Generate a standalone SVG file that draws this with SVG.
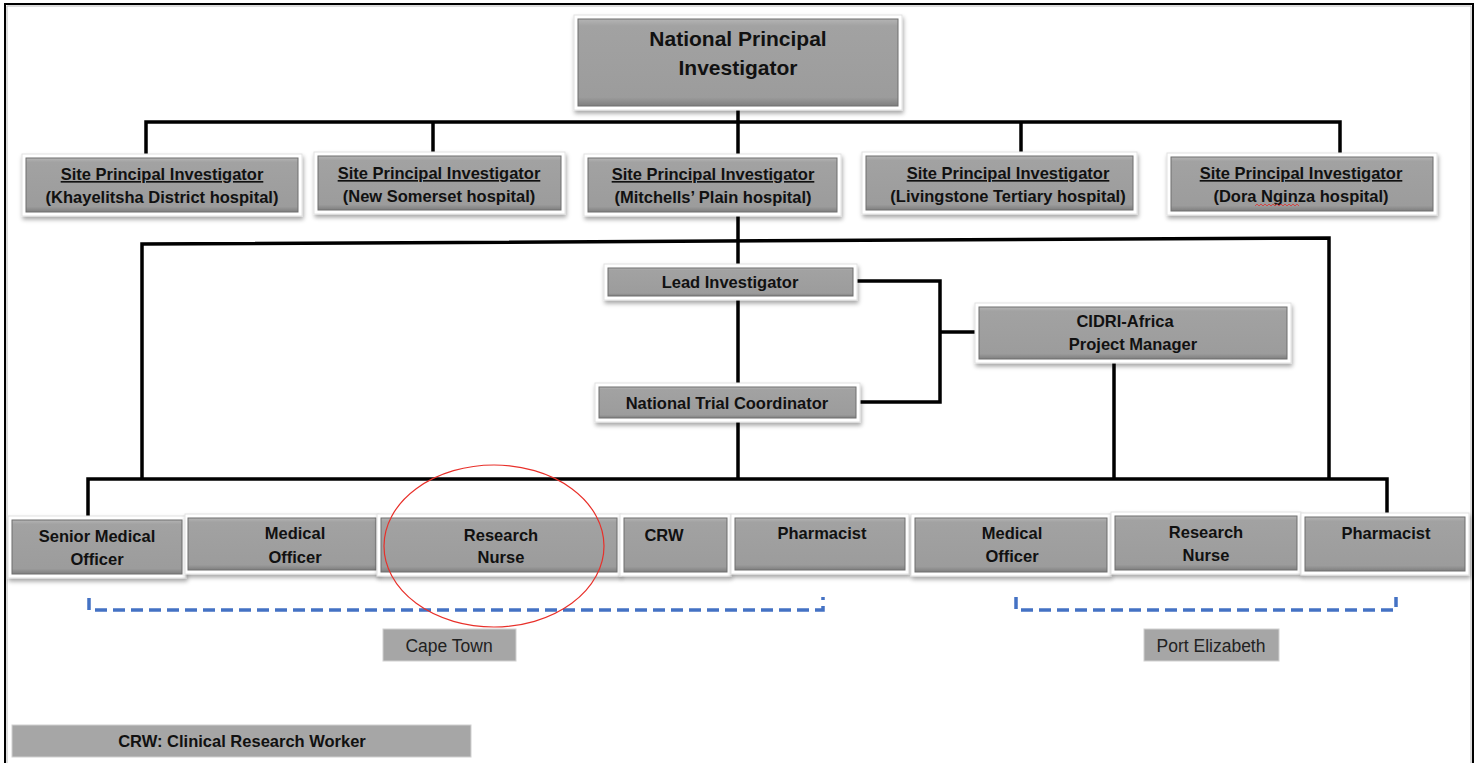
<svg xmlns="http://www.w3.org/2000/svg" width="1481" height="763" viewBox="0 0 1481 763">
<style>
.frame{fill:#fff;stroke:#e2e2e2;stroke-width:1}
.box{fill:url(#bev);stroke:#6f6f6f;stroke-width:1}
.t{font-family:"Liberation Sans",Arial,sans-serif;font-weight:bold;fill:#111;text-anchor:middle}
.s{font-size:16.5px}
.u{text-decoration:underline}
.c{stroke:#000;stroke-width:3.5;fill:none}
.d{stroke:#4472c4;stroke-width:3.5;fill:none;stroke-dasharray:12 6}
.lab{fill:#a6a6a6;stroke:#d0d0d0;stroke-width:1}
.lt{font-family:"Liberation Sans",Arial,sans-serif;font-size:17.5px;fill:#222;text-anchor:middle}
</style>
<defs>
<linearGradient id="bev" x1="0" y1="0" x2="0" y2="1">
<stop offset="0" stop-color="#b4b4b4"/>
<stop offset="0.08" stop-color="#a2a2a2"/>
<stop offset="0.9" stop-color="#9c9c9c"/>
<stop offset="1" stop-color="#7e7e7e"/>
</linearGradient>
<filter id="sh" x="-10%" y="-20%" width="120%" height="150%">
<feDropShadow dx="1" dy="3" stdDeviation="2" flood-color="#000" flood-opacity="0.35"/>
</filter>
</defs>
<rect x="0" y="0" width="1481" height="763" fill="#fff"/>
<path d="M5 790 V4 H1473 V790" fill="none" stroke="#000" stroke-width="2"/>
<path d="M7 790 V6 H1471 V790" fill="none" stroke="#bbb" stroke-width="1"/>

<g id="connectors">
<path class="c" d="M146 155 V122 H1340 V155"/>
<path class="c" d="M433 122 V155"/>
<path class="c" d="M1021 122 V155"/>
<path class="c" d="M738 106 V155"/>
<path class="c" d="M738 213 V265"/>
<path class="c" d="M142 478 V244 L1329 238 V478"/>
<path class="c" d="M738 299 V384"/>
<path class="c" d="M738 421 V479"/>
<path class="c" d="M856 281 H940 V402 H859"/>
<path class="c" d="M940 332 H977"/>
<path class="c" d="M1114 362 V478"/>
<path class="c" d="M88 519 V479 H1387 V514"/>
<path class="d" d="M89 598 V610 H823 V597"/>
<path class="d" d="M1016 597 V610 H1396 V597"/>
</g>

<g id="npi">
<rect class="frame" x="574" y="15" width="328" height="95" filter="url(#sh)"/>
<rect class="box" x="578" y="19" width="320" height="87"/>
<text class="t" x="738" y="46" font-size="21">National Principal</text>
<text class="t" x="738" y="75" font-size="21">Investigator</text>
</g>

<g id="spi1">
<rect class="frame" x="22" y="154" width="280" height="62" filter="url(#sh)"/>
<rect class="box" x="26" y="158" width="272" height="54"/>
<text class="t s u" x="162" y="180">Site Principal Investigator</text>
<text class="t s" x="162" y="203">(Khayelitsha District hospital)</text>
</g>
<g id="spi2">
<rect class="frame" x="314" y="152" width="251" height="62" filter="url(#sh)"/>
<rect class="box" x="318" y="156" width="243" height="54"/>
<text class="t s u" x="439" y="179">Site Principal Investigator</text>
<text class="t s" x="439" y="202">(New Somerset hospital)</text>
</g>
<g id="spi3">
<rect class="frame" x="584" y="154" width="257" height="62" filter="url(#sh)"/>
<rect class="box" x="588" y="158" width="249" height="54"/>
<text class="t s u" x="713" y="180">Site Principal Investigator</text>
<text class="t s" x="713" y="203">(Mitchells’ Plain hospital)</text>
</g>
<g id="spi4">
<rect class="frame" x="862" y="152" width="275" height="62" filter="url(#sh)"/>
<rect class="box" x="866" y="156" width="267" height="54"/>
<text class="t s u" x="1008" y="179">Site Principal Investigator</text>
<text class="t s" x="1008" y="202">(Livingstone Tertiary hospital)</text>
</g>
<g id="spi5">
<rect class="frame" x="1167" y="153" width="270" height="62" filter="url(#sh)"/>
<rect class="box" x="1171" y="157" width="262" height="54"/>
<text class="t s u" x="1301" y="179">Site Principal Investigator</text>
<text class="t s" x="1301" y="202">(Dora Nginza hospital)</text>
<path d="M1255 206 l2 -2 l2 2 l2 -2 l2 2 l2 -2 l2 2 l2 -2 l2 2 l2 -2 l2 2 l2 -2 l2 2 l2 -2 l2 2 l2 -2 l2 2 l2 -2 l2 2 l2 -2 l2 2 l2 -2 l2 2" fill="none" stroke="#e03030" stroke-width="0.8"/>
</g>

<g id="lead">
<rect class="frame" x="604" y="264" width="253" height="36" filter="url(#sh)"/>
<rect class="box" x="608" y="268" width="245" height="28"/>
<text class="t s" x="730" y="288">Lead Investigator</text>
</g>
<g id="ntc">
<rect class="frame" x="595" y="383" width="265" height="39" filter="url(#sh)"/>
<rect class="box" x="599" y="387" width="257" height="31"/>
<text class="t s" x="727" y="409">National Trial Coordinator</text>
</g>
<g id="cidri">
<rect class="frame" x="975" y="303" width="316" height="60" filter="url(#sh)"/>
<rect class="box" x="979" y="307" width="308" height="52"/>
<text class="t s" x="1125" y="327">CIDRI-Africa</text>
<text class="t s" x="1133" y="350">Project Manager</text>
</g>

<g id="smo">
<rect class="frame" x="8" y="516" width="178" height="62" filter="url(#sh)"/>
<rect class="box" x="12" y="520" width="170" height="54"/>
<text class="t s" x="97" y="542">Senior Medical</text>
<text class="t s" x="97" y="565">Officer</text>
</g>
<g id="mo1">
<rect class="frame" x="185" y="514" width="194" height="60" filter="url(#sh)"/>
<rect class="box" x="188" y="518" width="188" height="52"/>
<text class="t s" x="295" y="539">Medical</text>
<text class="t s" x="295" y="563">Officer</text>
</g>
<g id="rn1">
<rect class="frame" x="377" y="514" width="244" height="62" filter="url(#sh)"/>
<rect class="box" x="381" y="518" width="236" height="54"/>
<text class="t s" x="501" y="541">Research</text>
<text class="t s" x="501" y="563">Nurse</text>
</g>
<g id="crw">
<rect class="frame" x="620" y="514" width="111" height="62" filter="url(#sh)"/>
<rect class="box" x="624" y="518" width="103" height="54"/>
<text class="t s" x="664" y="541">CRW</text>
</g>
<g id="ph1">
<rect class="frame" x="731" y="514" width="178" height="60" filter="url(#sh)"/>
<rect class="box" x="735" y="518" width="170" height="52"/>
<text class="t s" x="822" y="539">Pharmacist</text>
</g>
<g id="mo2">
<rect class="frame" x="911" y="514" width="200" height="62" filter="url(#sh)"/>
<rect class="box" x="915" y="518" width="192" height="54"/>
<text class="t s" x="1012" y="539">Medical</text>
<text class="t s" x="1012" y="562">Officer</text>
</g>
<g id="rn2">
<rect class="frame" x="1111" y="512" width="190" height="62" filter="url(#sh)"/>
<rect class="box" x="1115" y="516" width="182" height="54"/>
<text class="t s" x="1206" y="538">Research</text>
<text class="t s" x="1206" y="561">Nurse</text>
</g>
<g id="ph2">
<rect class="frame" x="1301" y="513" width="168" height="62" filter="url(#sh)"/>
<rect class="box" x="1305" y="517" width="160" height="54"/>
<text class="t s" x="1386" y="539">Pharmacist</text>
</g>

<ellipse cx="494" cy="546" rx="110" ry="81" fill="none" stroke="#e8302a" stroke-width="1.2"/>

<g id="capetown">
<rect class="lab" x="383" y="629" width="133" height="32"/>
<text class="lt" x="449" y="652">Cape Town</text>
</g>
<g id="portelizabeth">
<rect class="lab" x="1144" y="629" width="135" height="32"/>
<text class="lt" x="1211" y="652">Port Elizabeth</text>
</g>
<g id="legend">
<rect class="lab" x="12" y="725" width="459" height="32"/>
<text class="t s" x="242" y="747">CRW: Clinical Research Worker</text>
</g>
</svg>
